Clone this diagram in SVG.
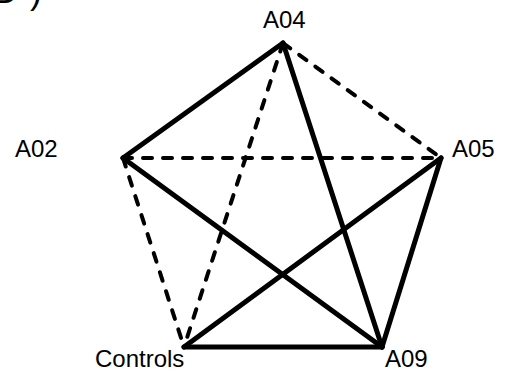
<svg xmlns="http://www.w3.org/2000/svg" width="507" height="371" viewBox="0 0 507 371">
<style>
.lbl{font-family:"Liberation Sans",Arial,sans-serif;font-size:24px;fill:#000}
.s{stroke:#000;stroke-width:5;fill:none;stroke-linecap:round}
.d{stroke:#000;stroke-width:4;fill:none;stroke-linecap:round;stroke-dasharray:9 11}
</style>
<rect width="507" height="371" fill="#fff"/>
<text class="lbl" x="-8" y="3" style="font-size:36px">B<tspan dx="14">)</tspan></text>
<g id="connectors">
<line class="s" x1="283" y1="43" x2="123" y2="158"/>
<line class="s" x1="283" y1="43" x2="382" y2="347"/>
<line class="s" x1="123" y1="158" x2="382" y2="347"/>
<line class="s" x1="184" y1="347" x2="441" y2="158"/>
<line class="s" x1="184" y1="347" x2="382" y2="347"/>
<line class="s" x1="441" y1="158" x2="382" y2="347"/>
<line class="d" x1="283" y1="43" x2="441" y2="158"/>
<line class="d" x1="123" y1="158" x2="441" y2="158"/>
<line class="d" x1="123" y1="158" x2="184" y2="347"/>
<line class="d" x1="283" y1="43" x2="184" y2="347"/>
</g>
<g id="A04"><text class="lbl" x="263" y="28">A04</text></g>
<g id="A02"><text class="lbl" x="15" y="157">A02</text></g>
<g id="A05"><text class="lbl" x="452" y="157">A05</text></g>
<g id="Controls"><text class="lbl" x="95" y="367">Controls</text></g>
<g id="A09"><text class="lbl" x="385" y="367">A09</text></g>
</svg>
